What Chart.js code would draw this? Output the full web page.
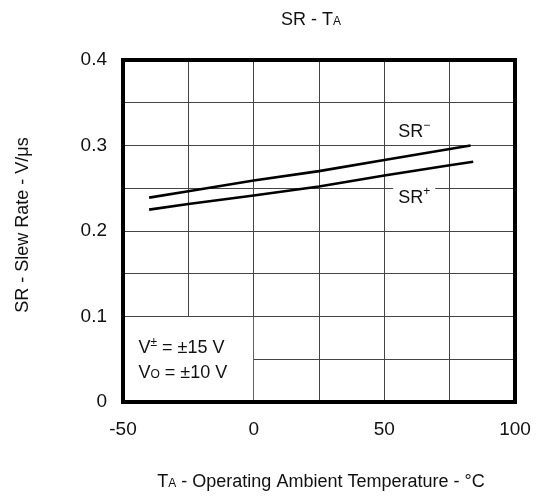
<!DOCTYPE html>
<html>
<head>
<meta charset="utf-8">
<title>SR - TA</title>
<script src="https://cdn.jsdelivr.net/npm/chart.js@4.4.1/dist/chart.umd.min.js"></script>
<style>
  html, body { margin: 0; padding: 0; background: #fff; }
  canvas { display: block; }
</style>
</head>
<body>
<canvas id="chart" width="540" height="496"></canvas>
<script>
// slew rate vs. ambient temperature
const tempsSrMinus = [-40, -25, 0, 25, 50, 75, 83];
const srMinus      = [0.239, 0.2465, 0.259, 0.270, 0.283, 0.296, 0.300];
const tempsSrPlus  = [-40, -25, 0, 25, 50, 75, 84];
const srPlus       = [0.225, 0.2315, 0.2415, 0.252, 0.265, 0.277, 0.281];

const xTickLabels = [-50, 0, 50, 100];
const yTickLabels = [0, 0.1, 0.2, 0.3, 0.4];

const FONT = '"Liberation Sans", Arial, Helvetica, sans-serif';
const INK = '#111';

Chart.defaults.font.family = FONT;
Chart.defaults.color = INK;

// draws a run of text pieces [text, size, dy] side by side
function richText(ctx, parts, x, y, align) {
  let w = 0;
  parts.forEach(p => { ctx.font = `${p[1]}px ${FONT}`; w += ctx.measureText(p[0]).width; });
  let cx = align === 'center' ? x - w / 2 : x;
  parts.forEach(p => {
    ctx.font = `${p[1]}px ${FONT}`;
    ctx.fillText(p[0], cx, y + (p[2] || 0));
    cx += ctx.measureText(p[0]).width;
  });
  return w;
}

const srLabels = [
  { parts: [['SR', 18], ['\u2212', 12, -8]], x: 55.3, y: 0.3095, knockout: false },
  { parts: [['SR', 18], ['+', 12, -8]],      x: 55.3, y: 0.2324, knockout: true },
];

const decor = {
  id: 'decor',
  beforeDatasetsDraw(chart) {
    const { ctx, chartArea: a, scales: { x, y } } = chart;
    ctx.save();
    ctx.fillStyle = '#fff';
    // the conditions box hides the grid in the lower-left corner
    const boxTop = y.getPixelForValue(0.1) + 0.5;
    ctx.fillRect(a.left, boxTop, x.getPixelForValue(0) - 0.5 - a.left, a.bottom - boxTop);
    // white patch behind the label that sits on a grid line
    srLabels.filter(l => l.knockout).forEach(l => {
      let w = 0;
      l.parts.forEach(p => { ctx.font = `${p[1]}px ${FONT}`; w += ctx.measureText(p[0]).width; });
      const px = x.getPixelForValue(l.x), py = y.getPixelForValue(l.y);
      ctx.fillRect(px - 5, py - 20, w + 10, 24);
    });
    ctx.restore();
  },
  afterDatasetsDraw(chart) {
    const { ctx, chartArea: a, scales: { x, y } } = chart;
    ctx.save();
    ctx.strokeStyle = '#000';
    ctx.lineWidth = 4;
    ctx.strokeRect(a.left, a.top, a.right - a.left, a.bottom - a.top);

    ctx.fillStyle = INK;
    ctx.textAlign = 'left';
    ctx.textBaseline = 'alphabetic';
    srLabels.forEach(l => richText(ctx, l.parts, x.getPixelForValue(l.x), y.getPixelForValue(l.y), 'left'));

    const ax = x.getPixelForValue(-44.1);
    richText(ctx, [['V', 18], ['\u00b1', 12, -7], [' = \u00b115 V', 18]], ax, y.getPixelForValue(0.0572), 'left');
    richText(ctx, [['V', 18], ['O', 12], [' = \u00b110 V', 18]], ax, y.getPixelForValue(0.028), 'left');
    ctx.restore();
  },
  afterDraw(chart) {
    const { ctx, chartArea: a } = chart;
    const mid = (a.left + a.right) / 2;
    ctx.save();
    ctx.fillStyle = INK;
    ctx.textAlign = 'left';
    ctx.textBaseline = 'alphabetic';
    richText(ctx, [['SR - T', 18], ['A', 12]], mid - 8, 25, 'center');
    richText(ctx, [['T', 18], ['A', 12], [' - Operating Ambient Temperature - \u00b0C', 18]], mid + 2, 487, 'center');

    ctx.translate(27.5, 225);
    ctx.rotate(-Math.PI / 2);
    ctx.font = `18px ${FONT}`;
    ctx.textAlign = 'center';
    ctx.fillText('SR - Slew Rate - V/\u03bcs', 0, 0);
    ctx.restore();
  },
};

const curve = (xs, ys) => xs.map((t, i) => ({ x: t, y: ys[i] }));

new Chart(document.getElementById('chart'), {
  type: 'line',
  data: {
    datasets: [
      { label: 'SR-', data: curve(tempsSrMinus, srMinus), borderColor: '#000', borderWidth: 2.6, pointRadius: 0, tension: 0 },
      { label: 'SR+', data: curve(tempsSrPlus, srPlus),   borderColor: '#000', borderWidth: 2.6, pointRadius: 0, tension: 0 },
    ],
  },
  options: {
    responsive: false,
    animation: false,
    devicePixelRatio: 1,
    layout: { padding: { left: 0, top: 60, right: 25, bottom: 0 } },
    plugins: { legend: { display: false }, tooltip: { enabled: false }, title: { display: false } },
    scales: {
      x: {
        type: 'linear',
        min: -50, max: 100,
        border: { display: false },
        grid: { color: '#444', lineWidth: 1, drawTicks: false },
        ticks: {
          stepSize: 25,
          padding: 16,
          font: { size: 19 },
          color: INK,
          maxRotation: 0,
          autoSkip: false,
          callback: v => xTickLabels.includes(v) ? String(v) : '',
        },
        // fixed plot box: keep the tick padding from eating into the right margin
        afterFit: s => { s.height = 94; s.paddingLeft = 0; s.paddingRight = 0; },
      },
      y: {
        min: 0, max: 0.4,
        border: { display: false },
        grid: { color: '#444', lineWidth: 1, drawTicks: false },
        ticks: {
          stepSize: 0.05,
          padding: 16,
          font: { size: 19 },
          color: INK,
          autoSkip: false,
          callback: v => {
            const t = yTickLabels.find(l => Math.abs(l - v) < 1e-9);
            return t === undefined ? '' : String(t);
          },
        },
        afterFit: s => { s.width = 123; },
      },
    },
  },
  plugins: [decor],
});
</script>
</body>
</html>
